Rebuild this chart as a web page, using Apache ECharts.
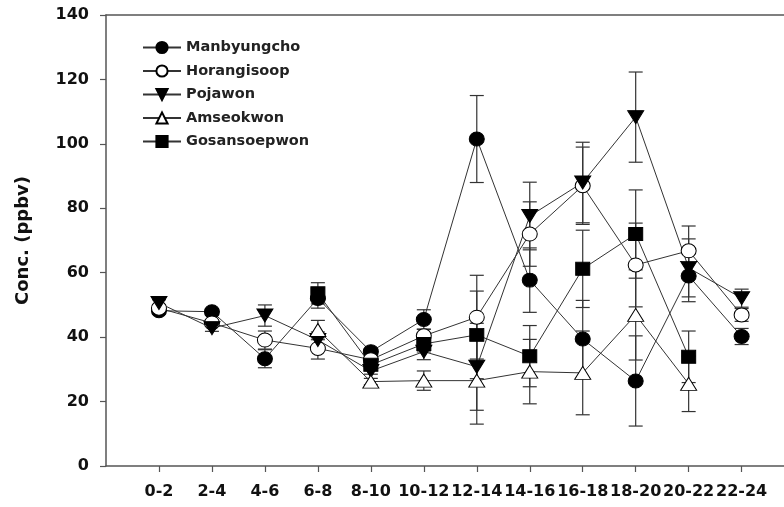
<!DOCTYPE html>
<html>
<head>
<meta charset="utf-8">
<script src="https://cdn.jsdelivr.net/npm/echarts@6/dist/echarts.min.js"></script>
<style>
  html, body { margin: 0; padding: 0; background: #fff; }
  #chart { width: 784px; height: 507px; }
</style>
</head>
<body>
<div id="chart"></div>
<script>
// time bins on the x axis
var categories = ['0-2', '2-4', '4-6', '6-8', '8-10', '10-12', '12-14', '14-16', '16-18', '18-20', '20-22', '22-24'];
var yTicks = [0, 20, 40, 60, 80, 100, 120, 140];

// mean concentrations (ppbv)
var manbyungcho  = [48.2, 47.9, 33.3, 52.0, 35.5, 45.5, 101.5, 57.7, 39.4, 26.4, 59.0, 40.2];
var horangisoop  = [49.0, 44.4, 39.1, 36.5, 33.0, 40.4, 46.2, 72.0, 87.0, 62.4, 66.8, 46.9];
var pojawon      = [50.6, 42.8, 46.7, 39.1, 29.5, 35.5, 30.8, 77.6, 88.0, 108.3, 61.5, 52.1];
var amseokwon    = [null, null, null, 42.2, 26.2, 26.5, 26.5, 29.3, 28.9, 46.9, 25.5, null];
var gosansoepwon = [null, null, null, 53.6, 31.4, 37.9, 40.7, 34.1, 61.2, 72.0, 33.9, null];

// error bar half-widths
var manbyungchoErr  = [1, 1, 2.8, 3, 1, 3, 13.5, 10, 12, 14, 8, 2.5];
var horangisoopErr  = [1, 1, 2.8, 3.3, 1, 2, 13, 10, 12, 13, 7.7, 2];
var pojawonErr      = [1, 1, 3.3, 2.5, 1, 2.5, 13.5, 10.5, 12.5, 14, 9, 2.8];
var amseokwonErr    = [null, null, null, 3, 1, 3, 13.5, 10, 13, 14, 8.6, null];
var gosansoepwonErr = [null, null, null, 3.3, 1, 2.5, 13.6, 9.5, 12, 13.7, 8, null];

var labelFont = { fontFamily: 'DejaVu Sans', fontWeight: 'bold', fontSize: 16, color: '#111' };
var axisColor = '#555';

function toPoints(vals) {
  return vals.map(function (v, i) { return [i, v]; });
}

function toBars(vals, errs) {
  var arr = [];
  vals.forEach(function (v, i) {
    if (v != null) arr.push([i, v - errs[i], v + errs[i]]);
  });
  return arr;
}

function renderErrorBar(params, api) {
  var x = api.value(0);
  var lo = api.coord([x, api.value(1)]);
  var hi = api.coord([x, api.value(2)]);
  var half = 7;
  var style = { stroke: '#333', lineWidth: 1.2 };
  return {
    type: 'group',
    children: [
      { type: 'line', shape: { x1: hi[0], y1: hi[1], x2: lo[0], y2: lo[1] }, style: style },
      { type: 'line', shape: { x1: hi[0] - half, y1: hi[1], x2: hi[0] + half, y2: hi[1] }, style: style },
      { type: 'line', shape: { x1: lo[0] - half, y1: lo[1], x2: lo[0] + half, y2: lo[1] }, style: style }
    ]
  };
}

var stations = [
  { name: 'Manbyungcho', data: manbyungcho, err: manbyungchoErr, symbol: 'circle', size: [15, 14], rotate: 0, fill: '#000' },
  { name: 'Horangisoop', data: horangisoop, err: horangisoopErr, symbol: 'circle', size: [15, 14], rotate: 0, fill: '#fff' },
  { name: 'Pojawon', data: pojawon, err: pojawonErr, symbol: 'triangle', size: [16, 13], rotate: 180, fill: '#000' },
  { name: 'Amseokwon', data: amseokwon, err: amseokwonErr, symbol: 'triangle', size: [16, 13], rotate: 0, fill: '#fff' },
  { name: 'Gosansoepwon', data: gosansoepwon, err: gosansoepwonErr, symbol: 'rect', size: [14, 13], rotate: 0, fill: '#000' }
];

var series = [];
stations.forEach(function (s) {
  series.push({
    type: 'custom',
    renderItem: renderErrorBar,
    data: toBars(s.data, s.err),
    encode: { x: 0, y: [1, 2] },
    z: 1,
    silent: true
  });
});
stations.forEach(function (s) {
  series.push({
    name: s.name,
    type: 'line',
    data: toPoints(s.data),
    symbol: s.symbol,
    symbolSize: s.size,
    symbolRotate: s.rotate,
    showAllSymbol: true,
    z: 3,
    lineStyle: { color: '#333', width: 1 },
    itemStyle: { color: s.fill, borderColor: '#000', borderWidth: 1, opacity: 1 }
  });
});

var tickIdx = categories.map(function (c, i) { return i; });

var chart = echarts.init(document.getElementById('chart'));
chart.setOption({
  animation: false,
  backgroundColor: '#fff',
  grid: { left: 106, top: 15, right: 0, bottom: 41, containLabel: false },
  legend: {
    data: stations.map(function (s) { return s.name; }),
    orient: 'vertical',
    left: 137,
    top: 35,
    itemWidth: 38,
    itemHeight: 14,
    itemGap: 8.5,
    itemTextGap: 13,
    textStyle: { fontFamily: 'DejaVu Sans', fontWeight: 'bold', fontSize: 14.5, color: '#222' }
  },
  xAxis: [
    {
      type: 'value',
      min: -1,
      max: 11.8,
      interval: 1,
      splitLine: { show: false },
      axisLine: { onZero: false, lineStyle: { color: axisColor, width: 1.5 } },
      axisTick: { show: true, length: 6, customValues: tickIdx, lineStyle: { color: axisColor, width: 1.2 } },
      axisLabel: Object.assign({
        margin: 18,
        customValues: tickIdx,
        formatter: function (v) { return categories[v] || ''; }
      }, labelFont)
    },
    {
      type: 'value',
      position: 'top',
      min: -1,
      max: 11.8,
      axisLine: { show: true, onZero: false, lineStyle: { color: axisColor, width: 1.5 } },
      axisTick: { show: false },
      axisLabel: { show: false },
      splitLine: { show: false }
    }
  ],
  yAxis: {
    type: 'value',
    min: yTicks[0],
    max: yTicks[yTicks.length - 1],
    interval: 20,
    name: 'Conc. (ppbv)',
    nameLocation: 'middle',
    nameRotate: 90,
    nameGap: 74,
    nameTextStyle: { fontFamily: 'DejaVu Sans', fontWeight: 'bold', fontSize: 18, color: '#111' },
    splitLine: { show: false },
    axisLine: { show: true, onZero: false, lineStyle: { color: axisColor, width: 1.5 } },
    axisTick: { show: true, length: 6, lineStyle: { color: axisColor, width: 1.2 } },
    axisLabel: Object.assign({ margin: 17 }, labelFont)
  },
  series: series
});
</script>
</body>
</html>
